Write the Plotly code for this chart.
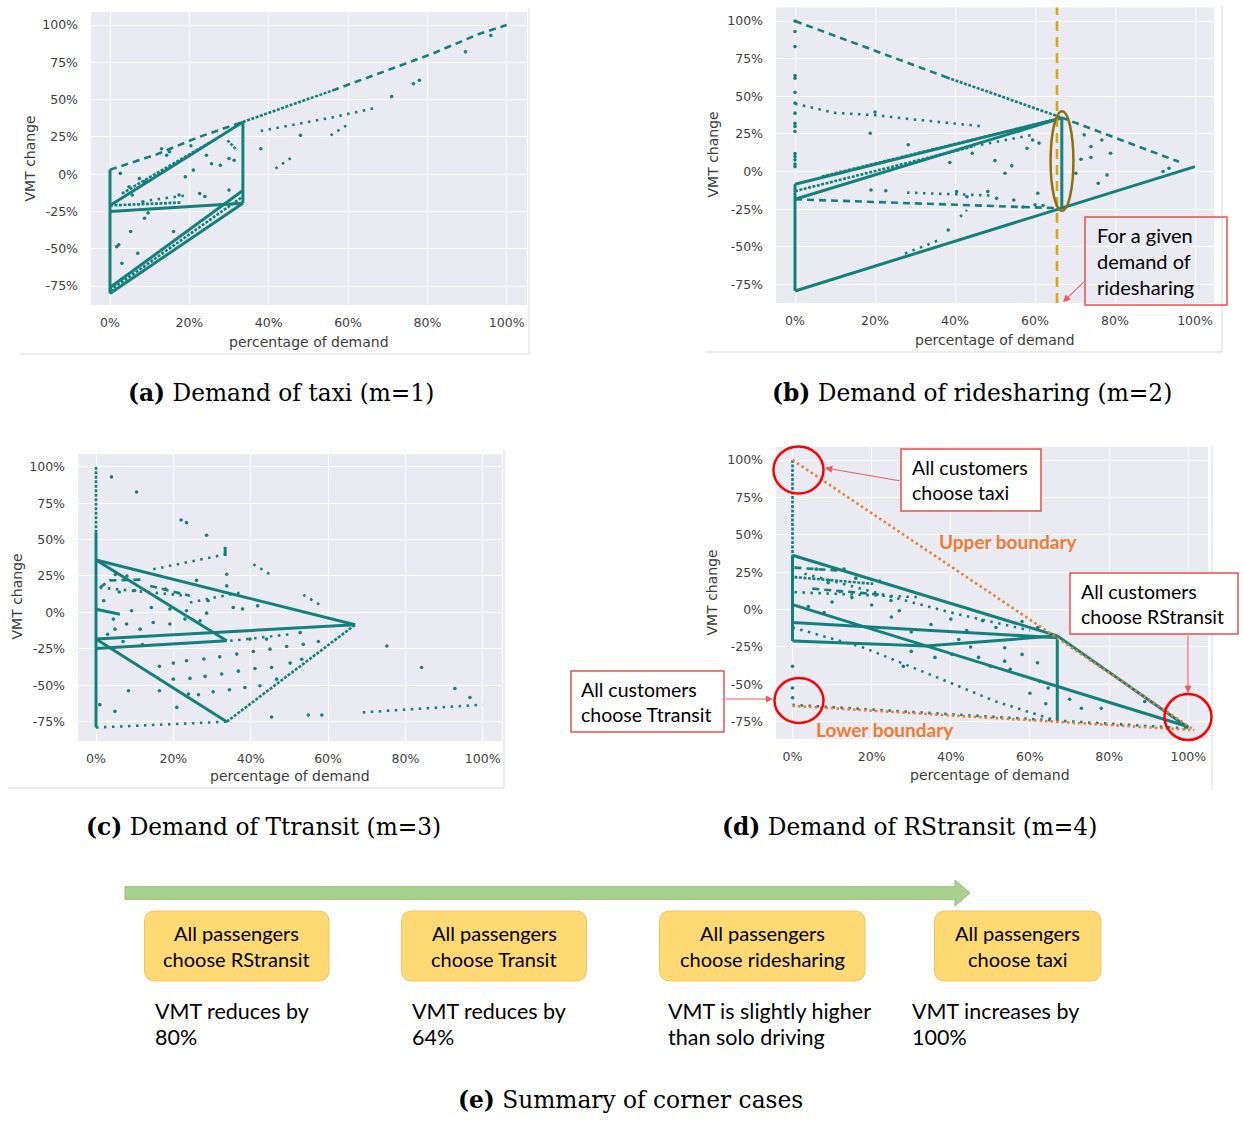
import plotly.graph_objects as go

W, H = 1243, 1121
TEAL = "#13807e"

# ---------------- data: x = percentage of demand (%), y = VMT change (%) ----------------
# Every entry of *_solid / *_dense / *_dash / *_dot is a polyline given by its vertices.

# (a) Demand of taxi (m=1)
taxi_solid = [
    [(0, 3), (0, -80)],
    [(0, -21), (33.5, 35)],
    [(33.5, 35), (33.5, -19.5)],
    [(0, -80), (33.5, -19.5)],
    [(0, -76), (33.5, -11)],
    [(0, -25), (33.5, -19.5)],
]
taxi_dense = [
    [(33.5, 35), (56, 56)],
    [(0, -78), (33.5, -15)],
    [(3, -13), (25, 21)],
    [(0, -21), (18, -19)],
    [(29.6, 22.7), (32, 16)],
]
taxi_dash = [
    [(0, 3), (12, 13.5), (22, 24.5), (33.5, 35)],
    [(56, 56), (70, 69.5), (81, 80.5), (93, 94), (100, 100)],
]
taxi_dot = [
    [(38, 29), (48, 34), (56, 38), (67, 44.5)],
    [(55.6, 26), (59.6, 32.7)],
    [(41.7, 3.8), (46, 11.6)],
    [(10, -17.5), (20, -14)],
]
taxi_points = [
    (2.6, 0.5), (7.4, -3), (8.7, -5), (13, 17), (14.3, 12.7), (20.4, 19), (21, 2.7),
    (23.9, -15), (24.3, 12.7), (25.6, 7), (27.8, 6), (30, 10.5), (31.3, 9.3), (30, -10.7),
    (19, -1.8), (4.8, -8.5), (5.6, -14), (8.3, -18.5), (8.7, -29.6), (9.6, -26), (5.2, -38.5),
    (2.2, -47.4), (1.7, -48.6), (7, -53), (3, -59.7), (16, -38.5), (22.6, -13), (17.4, -14),
    (38, 17), (48, 26), (71, 52), (76.5, 60.6), (78, 63), (89.6, 82), (96, 93), (15, 15),
]

# (b) Demand of ridesharing (m=2)
ride_solid = [
    [(0, -8.4), (0, -79.3)],
    [(0, -8.4), (66.5, 35.5)],
    [(0, -18.4), (66.5, 35.5)],
    [(0, -79.3), (100, 3.3)],
    [(66.7, 35.5), (66.7, -24.4)],
]
ride_dense = [
    [(38, 62.5), (66.5, 36)],
    [(6.7, -3.3), (66.5, 35.5)],
    [(0, -13), (45, 17)],
]
ride_dash = [
    [(0, 100), (38, 62.5)],
    [(66.5, 36), (96, 6.5)],
    [(0, -18.4), (66.5, -24.4)],
]
ride_dot = [
    [(0, 45), (10, 39), (20, 37.5), (30, 34.5), (47, 30)],
    [(27.5, -54.4), (36, -45.5)],
    [(41.3, -30), (43, -25.5)],
    [(46.5, 17.8), (59.4, 24.4)],
    [(28, -14), (50, -16)],
]
ride_points = [
    (0, 100), (0, 93), (0, 83), (0, 63.7), (0, 62), (0, 52.6), (0, 45.5), (0, 38.8), (0, 32),
    (0, 30), (0, 26.6), (0, 12), (0, 10), (0, 7.8), (0, 5), (0, 3.3),
    (18.8, 25.5), (28.3, 17.8), (38.7, 6), (44.3, 12.2), (50, 7.3), (54.2, 3.8), (52.5, -1.1),
    (19, -12.2), (22.7, -12.7), (40.4, -13.3), (43, -16.7), (48.2, -13.3), (50.4, -17.8),
    (54.7, -18.9), (60.7, -14.4), (58, 15.5), (59.4, 21), (61, 18.9), (71.5, 8.2), (74, 9.3),
    (70.2, -1.1), (75.8, -7.8), (78, -2.2), (76.7, 21), (78.9, 12.2), (92, 0), (93.5, 2.2),
    (72.3, 24.4), (74, 16.7), (38.3, -38.8), (57, -23.5), (60, -22), (62, -22.5), (20, 39.5),
]

# (c) Demand of Ttransit (m=3)
transit_solid = [
    [(0, 55), (0, -79)],
    [(0, 36), (67, -8.5)],
    [(0, 36), (33.8, -19.5)],
    [(0, -18.3), (67, -8.5)],
    [(0, -24.7), (33.8, -19.5)],
    [(0, -18.3), (33.8, -75)],
    [(0, 2.2), (6.2, -1.2)],
    [(33.4, 45), (33.4, 38.8)],
]
transit_dense = [
    [(0, 100), (0, 55)],
    [(33.8, -75), (67, -8.5)],
]
transit_dash = [
    [(14, 18.2), (24.3, 11.4)],
    [(1, 17), (3.5, 22), (12, 22.5)],
]
transit_dot = [
    [(0, -79), (33.8, -75)],
    [(69, -68.6), (100, -63.3)],
    [(14.8, 29.6), (33.8, 40)],
    [(24.3, 6.8), (37.2, 13.6)],
    [(40.7, 33), (45, 26.2)],
    [(53.6, 12), (58.4, 4.5)],
    [(1, 17), (23.4, 11.4)],
    [(34.7, -19.5), (51, -14.8)],
]
transit_points = [
    (4, 93), (10.5, 82.6), (22, 63.4), (23.4, 61.6), (28.6, 53), (75.2, -23), (84.2, -37.8),
    (92.8, -52.2), (96.7, -58.4), (45.4, -71.8), (54.9, -70.4), (58.4, -70.4),
    (8.4, -53.8), (4.9, -67.9), (1, -63.3), (16.4, -53.8), (20.9, -65.2), (16.4, -37),
    (20, -34.8), (23.4, -33.2), (27.9, -32), (32, -30.5), (36.4, -28.6), (40.7, -26.8),
    (45, -25.2), (49.3, -23.4), (53.6, -21.8), (57.5, -20), (20, -45.8), (24.3, -45.3),
    (28.2, -43.9), (32.5, -42.3), (36.8, -40.3), (41.1, -38.5), (45.4, -37.8), (50.2, -34.8),
    (53.2, -32.1), (23.9, -56), (26.5, -56.5), (30.3, -54.5), (34.5, -53.1), (38.5, -51.5),
    (42.4, -50.3), (46.7, -45.8), (4.9, -11.5), (7.9, -8), (11.4, -11.5), (14.8, -6.9),
    (19.1, -8), (23, -4.6), (26.9, -5.8), (14.3, 3.4), (9.2, 1.1), (19.1, 2.3), (23.4, 1.1),
    (28.6, -0.5), (35.5, 3.4), (37.9, 2.3), (41.8, 4.5), (4.5, -4.6), (33.8, 26.2),
    (33.8, 18.2), (39.8, -18.3), (44.1, -18.3), (52.8, -13.8), (5, 26), (8, 25), (10, 15),
    (6, 14), (18, 16), (26, 22), (29, 8), (2, 8), (3, -15), (7, -20), (12, -22),
]

# (d) Demand of RStransit (m=4)
rst_solid = [
    [(0, 36.3), (0, -21)],
    [(0, 36.3), (66.9, -17.6)],
    [(0, 3.3), (100, -78.4)],
    [(0, -8.6), (66.9, -18.8)],
    [(0, -21), (33.7, -24.4), (66.9, -17.6)],
    [(66.9, -17.6), (100, -79)],
    [(66.9, -17.6), (66.9, -74.5)],
]
rst_dense = [
    [(0, 100), (0, 36.3)],
    [(0.5, 21.7), (20.4, 17.2)],
]
rst_dash = [
    [(0.5, 28), (12, 26)],
    [(5, 14), (22, 10)],
]
rst_dot = [
    [(0, -63.7), (100, -79.5)],
    [(0.5, 11.6), (32.6, 8.2)],
    [(0, -12), (18, -25.5), (34.8, -43.5), (51.4, -61.5), (66.9, -74.5)],
    [(3, 24), (20, 12), (40, -2), (60, -14)],
]
rst_points = [
    (0, -37.9), (0, -52.5), (0, -59), (24.9, 6), (27, -0.8), (40, -6.4), (48, -7.5),
    (51.4, -12), (53.6, -25.5), (58, -30), (61.9, -35.6), (62.4, -48), (64.6, -52.5),
    (53.6, -34.5), (47, -32), (40.3, -30), (73, -66), (89, -61.5), (55, -40), (50, -38),
    (45, -25), (42, -20), (35, -10), (30, -15), (25, -5), (20, 3), (15, 8), (10, 5), (8, -2),
    (58, -8), (62, -12), (44, -14), (36, -32), (30, -28), (28, -38), (60, -56), (64, -63),
    (13, 27), (16, 21), (6, 27), (22, 19), (9, 18), (12, 12), (4, 2), (70, -60), (78, -66),
]

# boundaries in (d)
upper_boundary = [(0, 100), (101.5, -80.6)]
lower_boundary = [(0, -64.4), (101.5, -80.6)]

x_tick_values = [0, 20, 40, 60, 80, 100]
x_tick_text = ["0%", "20%", "40%", "60%", "80%", "100%"]
y_tick_values = [-75, -50, -25, 0, 25, 50, 75, 100]
y_tick_text = ["-75%", "-50%", "-25%", "0%", "25%", "50%", "75%", "100%"]

# ---------------- layout geometry (pixels) ----------------
# plot box and pixel positions of 0%/100% on x and 100%/-75% on y
PANELS = [
    dict(ax="", box=(91, 12, 527, 305), x0=110, x100=506.7, y100=25, ym75=286),
    dict(ax="2", box=(776, 7.5, 1214, 303), x0=795, x100=1195, y100=21, ym75=284.5),
    dict(ax="3", box=(78, 454, 502, 741), x0=96, x100=482.7, y100=466.7, ym75=721.7),
    dict(ax="4", box=(776, 446.7, 1208, 739), x0=792.5, x100=1188.3, y100=460, ym75=721.7),
]
SERIES = [
    (taxi_solid, taxi_dense, taxi_dash, taxi_dot, taxi_points),
    (ride_solid, ride_dense, ride_dash, ride_dot, ride_points),
    (transit_solid, transit_dense, transit_dash, transit_dot, transit_points),
    (rst_solid, rst_dense, rst_dash, rst_dot, rst_points),
]
STYLES = [
    dict(width=3, dash="solid"),
    dict(width=2.6, dash="3px,1.5px"),
    dict(width=2.6, dash="7px,5px"),
    dict(width=2.6, dash="2.5px,5.5px"),
]


def flatten(polylines):
    xs, ys = [], []
    for line in polylines:
        for x, y in line:
            xs.append(x)
            ys.append(y)
        xs.append(None)
        ys.append(None)
    return xs, ys


fig = go.Figure()
layout = dict(
    width=W, height=H, margin=dict(l=0, r=0, t=0, b=0),
    paper_bgcolor="white", plot_bgcolor="#EAEAF2", showlegend=False,
)

tick_font = dict(family="DejaVu Sans", size=12.5, color="#3d3d3d")
for p, series in zip(PANELS, SERIES):
    bx0, by0, bx1, by1 = p["box"]
    sx = (p["x100"] - p["x0"]) / 100
    sy = (p["ym75"] - p["y100"]) / 175
    xr = [(bx0 - p["x0"]) / sx, (bx1 - p["x0"]) / sx]
    yr = [100 - (by1 - p["y100"]) / sy, 100 + (p["y100"] - by0) / sy]
    xa, ya = "x" + p["ax"], "y" + p["ax"]
    layout["xaxis" + p["ax"]] = dict(
        domain=[bx0 / W, bx1 / W], range=xr, anchor=ya, tickvals=x_tick_values,
        ticktext=x_tick_text, showgrid=True, gridcolor="white", gridwidth=1.3,
        zeroline=False, showline=False, ticks="", tickfont=tick_font, ticklabelstandoff=8,
    )
    layout["yaxis" + p["ax"]] = dict(
        domain=[1 - by1 / H, 1 - by0 / H], range=yr, anchor=xa, tickvals=y_tick_values,
        ticktext=y_tick_text, showgrid=True, gridcolor="white", gridwidth=1.3,
        zeroline=False, showline=False, ticks="", tickfont=tick_font, ticklabelstandoff=12,
    )
    for polylines, style in zip(series[:4], STYLES):
        xs, ys = flatten(polylines)
        fig.add_trace(go.Scatter(x=xs, y=ys, mode="lines", xaxis=xa, yaxis=ya,
                                 line=dict(color=TEAL, **style), hoverinfo="skip"))
    pts = series[4]
    fig.add_trace(go.Scatter(x=[q[0] for q in pts], y=[q[1] for q in pts], mode="markers",
                             xaxis=xa, yaxis=ya, marker=dict(color=TEAL, size=3.6),
                             hoverinfo="skip"))

for boundary in (upper_boundary, lower_boundary):
    fig.add_trace(go.Scatter(x=[q[0] for q in boundary], y=[q[1] for q in boundary],
                             mode="lines", xaxis="x4", yaxis="y4",
                             line=dict(color="#ED7D31", width=2.6, dash="2.5px,3px"),
                             hoverinfo="skip"))


# ---------------- helpers for pixel-placed decorations ----------------
def fx(x):
    return x / W


def fy(y):
    return 1 - y / H


def rect(x0, y0, x1, y1, **kw):
    return dict(type="rect", xref="paper", yref="paper", x0=fx(x0), x1=fx(x1),
                y0=fy(y1), y1=fy(y0), **kw)


def ellipse(cx, cy, rx, ry, **kw):
    return dict(type="circle", xref="paper", yref="paper", x0=fx(cx - rx), x1=fx(cx + rx),
                y0=fy(cy + ry), y1=fy(cy - ry), **kw)


def seg(x0, y0, x1, y1, color="#d9d9d9", width=1):
    return dict(type="line", xref="paper", yref="paper", x0=fx(x0), x1=fx(x1), y0=fy(y0),
                y1=fy(y1), line=dict(color=color, width=width))


def pt(x, y):
    return f"{fx(x):.5f},{fy(y):.5f}"


def rounded(x0, y0, x1, y1, r):
    return (f"M {pt(x0 + r, y0)} L {pt(x1 - r, y0)} Q {pt(x1, y0)} {pt(x1, y0 + r)} "
            f"L {pt(x1, y1 - r)} Q {pt(x1, y1)} {pt(x1 - r, y1)} L {pt(x0 + r, y1)} "
            f"Q {pt(x0, y1)} {pt(x0, y1 - r)} L {pt(x0, y0 + r)} Q {pt(x0, y0)} {pt(x0 + r, y0)} Z")


def text(x, y, s, size, family="Lato", color="#000000", xanchor="center", **kw):
    return dict(x=fx(x), y=fy(y), xref="paper", yref="paper", text=s, showarrow=False,
                xanchor=xanchor, yanchor="middle",
                font=dict(family=family, size=size, color=color), **kw)


def arrow(hx, hy, tx, ty):
    return dict(x=fx(hx), y=fy(hy), xref="paper", yref="paper", ax=tx - hx, ay=ty - hy,
                axref="pixel", ayref="pixel", text="", showarrow=True, arrowhead=2,
                arrowsize=1.3, arrowwidth=1.1, arrowcolor="#f05a5a", standoff=0,
                startstandoff=0)


RED_BOX = dict(color="#e8504f", width=1.5)
shapes = [
    # frames of the four chart images
    seg(20, 354, 529, 354), seg(529, 8, 529, 354),
    seg(705, 352, 1222, 352), seg(1222, 5, 1222, 352),
    seg(8, 788, 504, 788), seg(504, 450, 504, 788),
    seg(1212, 445, 1212, 790),
    # (b) given demand of ridesharing
    dict(type="line", xref="x2", yref="y2 domain", x0=65.5, x1=65.5, y0=0, y1=1,
         line=dict(color="#d9a514", width=2.6, dash="10px,6px")),
    dict(type="circle", xref="x2", yref="y2", x0=63.9, x1=69.6, y0=-26, y1=40,
         line=dict(color="#8f6d12", width=2.5)),
    rect(1085, 217, 1227, 305, line=RED_BOX),
    # (d) corner cases
    rect(901, 449, 1041, 511, line=RED_BOX, fillcolor="white"),
    rect(1070, 573, 1238, 634, line=RED_BOX, fillcolor="white"),
    rect(571, 671, 724, 732, line=RED_BOX, fillcolor="white"),
    ellipse(798.5, 470, 25, 23.5, line=dict(color="#ff0000", width=2.5)),
    ellipse(799, 700.5, 24.5, 22.5, line=dict(color="#ff0000", width=2.5)),
    ellipse(1188, 717, 23.5, 23, line=dict(color="#ff0000", width=2.5)),
    # (e) summary arrow
    dict(type="path", xref="paper", yref="paper",
         path="M " + " L ".join(pt(x, y) for x, y in [
             (125, 886.7), (955, 886.7), (955, 880), (970, 893), (955, 906),
             (955, 899.3), (125, 899.3)]) + " Z",
         fillcolor="#a9d18e", line=dict(color="#93c174", width=1)),
]
summary_boxes = [(144.5, 911, 329, 981), (401.5, 911, 586.5, 981),
                 (659.5, 911, 865, 981), (934.5, 911, 1101, 981)]
for b in summary_boxes:
    shapes.append(dict(type="path", xref="paper", yref="paper", path=rounded(*b, 11),
                       fillcolor="#FFD974", line=dict(color="#F3C55A", width=1)))

annotations = []
# axis titles
for cx, cy in [(309, 341.5), (995, 340), (290, 776), (990, 775)]:
    annotations.append(text(cx, cy, "percentage of demand", 14, "DejaVu Sans", "#3d3d3d"))
for cx, cy in [(29, 158.5), (712.5, 155), (16.5, 597), (711.5, 593)]:
    annotations.append(text(cx, cy, "VMT change", 14, "DejaVu Sans", "#3d3d3d", textangle=-90))

# captions
CAP = "DejaVu Serif"
CAP_SIZE = 23.3
annotations += [
    text(281, 392, "<b>(a)</b> Demand of taxi (m=1)", CAP_SIZE, CAP),
    text(972, 392, "<b>(b)</b> Demand of ridesharing (m=2)", CAP_SIZE, CAP),
    text(263.5, 826, "<b>(c)</b> Demand of Ttransit (m=3)", CAP_SIZE, CAP),
    text(909, 826, "<b>(d)</b> Demand of RStransit (m=4)", CAP_SIZE, CAP),
    text(630, 1099, "<b>(e)</b> Summary of corner cases", CAP_SIZE, CAP),
]

# (b) note
for i, line in enumerate(["For a given", "demand of", "ridesharing"]):
    annotations.append(text(1095, 235 + 26 * i, line, 20, xanchor="left"))
annotations.append(arrow(1063, 302, 1085, 281))

# (d) notes
for (lx, ly), lines in [((910, 467), ["All customers", "choose taxi"]),
                        ((1079, 591), ["All customers", "choose RStransit"]),
                        ((579, 689), ["All customers", "choose Ttransit"])]:
    for i, line in enumerate(lines):
        annotations.append(text(lx, ly + 25.5 * i, line, 19.5, xanchor="left"))
annotations += [
    arrow(825, 468, 901, 481),
    arrow(1188, 693, 1188, 634),
    arrow(773, 699, 724, 699),
    text(1008, 541, "<b>Upper boundary</b>", 19, color="#ED7D31"),
    text(885, 729, "<b>Lower boundary</b>", 19, color="#ED7D31"),
]

# (e) summary
box_labels = ["choose RStransit", "choose Transit", "choose ridesharing", "choose taxi"]
outcomes = [("VMT reduces by", "80%"), ("VMT reduces by", "64%"),
            ("VMT is slightly higher", "than solo driving"), ("VMT increases by", "100%")]
text_left = [153, 410, 666, 910]
for b, lab, (l1, l2), tx in zip(summary_boxes, box_labels, outcomes, text_left):
    cx = (b[0] + b[2]) / 2
    annotations.append(text(cx, 933, "All passengers", 20))
    annotations.append(text(cx, 959, lab, 20))
    annotations.append(text(tx, 1011.5, l1, 21.5, xanchor="left"))
    annotations.append(text(tx, 1036.5, l2, 21.5, xanchor="left"))

layout["shapes"] = shapes
layout["annotations"] = annotations
fig.update_layout(**layout)
fig.write_html("out.html")
